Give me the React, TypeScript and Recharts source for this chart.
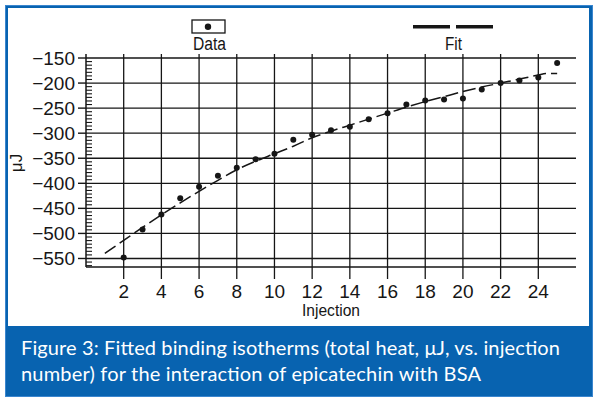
import React from 'react';
import { ComposedChart, Line, XAxis, YAxis } from 'recharts';

const injections = [2, 3, 4, 5, 6, 7, 8, 9, 10, 11, 12, 13, 14, 15, 16, 17, 18, 19, 20, 21, 22, 23, 24, 25];
const heatValues = [-548, -492, -462, -430, -407, -385, -369, -352, -341, -313, -303, -294, -287, -272, -260, -243, -235, -233, -231, -213, -200, -195, -189, -160];

const fitInjections = [1, 2, 3, 4, 5, 6, 7, 8, 9, 10, 11, 12, 13, 14, 15, 16, 17, 18, 19, 20, 21, 22, 23, 24, 24.4, 25];
const fitValues = [-540, -514, -488, -463, -439, -416, -394, -373, -356, -341, -326, -309, -296, -284, -272, -260, -248, -237, -227, -217, -208, -200, -192, -184, -181, -181];

const xTicks = [2, 4, 6, 8, 10, 12, 14, 16, 18, 20, 22, 24];
const yMajorTicks = [-550, -500, -450, -400, -350, -300, -250, -200, -150];

const X_DOMAIN: [number, number] = [0, 26];
const Y_DOMAIN: [number, number] = [-567, -142];

const dataPoints = injections.map((x, i) => ({ x, y: heatValues[i] }));
const fitPoints = fitInjections.map((x, i) => ({ x, y: fitValues[i] }));

// minor ticks: 7 per 50 units
const yAllTicks: number[] = [];
for (let k = 0; k <= 59; k++) {
  const v = -150 - (k * 50) / 7;
  if (v >= Y_DOMAIN[0]) yAllTicks.push(Math.round(v * 1000) / 1000);
}
const majorSet = new Set(yMajorTicks);

// layout
const CHART_W = 600;
const CHART_H = 330;
const MARGIN = { top: 54, right: 24, bottom: 23, left: 26 };
const Y_AXIS_W = 60;
const X_AXIS_H = 40;
const PLOT_W = CHART_W - MARGIN.left - MARGIN.right - Y_AXIS_W;
const PLOT_H = CHART_H - MARGIN.top - MARGIN.bottom - X_AXIS_H;

const TICK_SIZE = 8;
const TICK_MARGIN = 3;
const MINOR_LEN = 6;
const X_TICK_SIZE = 12;
const X_TICK_MARGIN = 5;
const INK = '#161616';
const BLUE = '#0863b0';
const sans = '"Liberation Sans", Arial, sans-serif';
const TICK_FONT = 19;

const YTick = (props: any) => {
  const { x, y, payload } = props;
  const v = payload.value as number;
  const axisX = x + TICK_SIZE + TICK_MARGIN;
  if (majorSet.has(v)) {
    return (
      <g>
        <line x1={axisX} x2={axisX + PLOT_W} y1={y} y2={y} stroke={INK} strokeWidth={1.3} />
        <line x1={axisX - TICK_SIZE} x2={axisX} y1={y} y2={y} stroke={INK} strokeWidth={1.4} />
        <text x={x} y={y} textAnchor="end" dominantBaseline="central" fill={INK}
          style={{ fontFamily: sans, fontSize: TICK_FONT }}>
          {String(v).replace('-', '\u2212')}
        </text>
      </g>
    );
  }
  return <line x1={axisX} x2={axisX + MINOR_LEN} y1={y} y2={y} stroke={INK} strokeWidth={1.1} />;
};

const XTick = (props: any) => {
  const { x, y, payload } = props;
  const axisY = y - X_TICK_SIZE - X_TICK_MARGIN;
  return (
    <g>
      <line x1={x} x2={x} y1={axisY - PLOT_H} y2={axisY + X_TICK_SIZE} stroke={INK} strokeWidth={1.3} />
      <text x={x} y={y} dy="0.72em" textAnchor="middle" fill={INK} style={{ fontFamily: sans, fontSize: TICK_FONT }}>
        {payload.value}
      </text>
    </g>
  );
};

export default function App() {
  return (
    <div style={{ position: 'absolute', left: 0, top: 0, width: 600, height: 408, background: '#fff', overflow: 'hidden' }}>
      <div style={{ position: 'absolute', left: 5, top: 5, width: 588, height: 392, background: BLUE, boxShadow: 'inset 0 0 0 1px #3a86cf' }} />
      <div style={{ position: 'absolute', left: 8, top: 8, width: 581, height: 318, background: '#fff' }} />
      <div style={{ position: 'absolute', left: 0, top: 0 }}>
        <ComposedChart width={CHART_W} height={CHART_H} margin={MARGIN} data={dataPoints}>
          <XAxis
            xAxisId={0}
            type="number"
            dataKey="x"
            domain={X_DOMAIN}
            ticks={xTicks}
            allowDataOverflow
            height={X_AXIS_H}
            tickSize={X_TICK_SIZE}
            tickMargin={X_TICK_MARGIN}
            axisLine={{ stroke: INK, strokeWidth: 1.5 }}
            tickLine={false}
            interval={0}
            tick={<XTick />}
          />
          <XAxis
            xAxisId="top"
            orientation="top"
            type="number"
            dataKey="x"
            domain={X_DOMAIN}
            allowDataOverflow
            height={0}
            axisLine={{ stroke: INK, strokeWidth: 1.5 }}
            tickLine={false}
            tick={false}
          />
          <YAxis
            yAxisId={0}
            type="number"
            dataKey="y"
            domain={Y_DOMAIN}
            ticks={yAllTicks}
            allowDataOverflow
            width={Y_AXIS_W}
            tickSize={TICK_SIZE}
            tickMargin={TICK_MARGIN}
            axisLine={{ stroke: INK, strokeWidth: 1.5 }}
            tickLine={false}
            interval={0}
            tick={<YTick />}
          />
          <YAxis
            yAxisId="right"
            orientation="right"
            type="number"
            dataKey="y"
            domain={Y_DOMAIN}
            allowDataOverflow
            width={0}
            axisLine={{ stroke: INK, strokeWidth: 1.5 }}
            tickLine={false}
            tick={false}
          />
          <Line
            data={fitPoints}
            dataKey="y"
            type="monotone"
            stroke={INK}
            strokeWidth={1.5}
            strokeDasharray="13 5"
            dot={false}
            activeDot={false}
            isAnimationActive={false}
          />
          <Line
            data={dataPoints}
            dataKey="y"
            stroke="none"
            dot={{ r: 3, fill: INK, stroke: 'none' }}
            activeDot={false}
            isAnimationActive={false}
          />
        </ComposedChart>
      </div>

      {/* legend */}
      <svg style={{ position: 'absolute', left: 0, top: 0 }} width={600} height={60}>
        <rect x={192} y={20} width={33} height={13} fill="#fff" stroke={INK} strokeWidth={1.3} />
        <circle cx={208} cy={26.7} r={3.2} fill={INK} />
        <line x1={413} x2={450} y1={26.7} y2={26.7} stroke={INK} strokeWidth={3.4} />
        <line x1={456} x2={493} y1={26.7} y2={26.7} stroke={INK} strokeWidth={3.4} />
        <text x={193} y={50} textLength={33} lengthAdjust="spacingAndGlyphs" fill={INK}
          style={{ fontFamily: sans, fontSize: 18 }}>Data</text>
        <text x={445} y={50} textLength={17} lengthAdjust="spacingAndGlyphs" fill={INK}
          style={{ fontFamily: sans, fontSize: 18 }}>Fit</text>
      </svg>

      {/* axis titles */}
      <svg style={{ position: 'absolute', left: 0, top: 0 }} width={600} height={330}>
        <text x={302} y={316} textLength={58} lengthAdjust="spacingAndGlyphs" fill={INK}
          style={{ fontFamily: sans, fontSize: 17 }}>Injection</text>
        <text x={22} y={163} textAnchor="middle" fill={INK} transform="rotate(-90 22 163)"
          style={{ fontFamily: sans, fontSize: 17 }}>μJ</text>
      </svg>

      {/* caption */}
      <svg style={{ position: 'absolute', left: 0, top: 330 }} width={600} height={70}>
        <text x={21} y={25} textLength={539} lengthAdjust="spacing" fill="#fff"
          style={{ fontFamily: 'Lato, "Noto Sans", sans-serif', fontSize: 20 }}>
          Figure 3: Fitted binding isotherms (total heat, μJ, vs. injection
        </text>
        <text x={21} y={51} textLength={460} lengthAdjust="spacing" fill="#fff"
          style={{ fontFamily: 'Lato, "Noto Sans", sans-serif', fontSize: 20 }}>
          number) for the interaction of epicatechin with BSA
        </text>
      </svg>
    </div>
  );
}
